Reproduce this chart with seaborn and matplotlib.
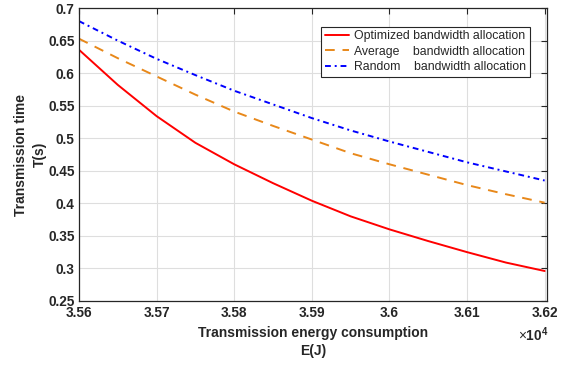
import numpy as np
import pandas as pd
import matplotlib
matplotlib.use('Agg')
import matplotlib.pyplot as plt
from matplotlib.ticker import FuncFormatter, MultipleLocator
import seaborn as sns

# 数据
energy = [35600, 35650, 35700, 35750, 35800, 35850, 35900,
          35950, 36000, 36050, 36100, 36150, 36200]
t_optimized = [0.636, 0.582, 0.534, 0.493, 0.460, 0.431, 0.404,
               0.380, 0.360, 0.342, 0.325, 0.309, 0.296]
t_average = [0.653, 0.623, 0.595, 0.567, 0.541, 0.519, 0.498,
             0.477, 0.460, 0.444, 0.428, 0.414, 0.401]
t_random = [0.680, 0.650, 0.622, 0.597, 0.573, 0.552, 0.531,
            0.512, 0.495, 0.479, 0.463, 0.449, 0.435]
labels = ['Optimized bandwidth allocation',
          'Average    bandwidth allocation',
          'Random    bandwidth allocation']

sns.set_theme(style='whitegrid')
plt.rcParams['font.family'] = ['Liberation Sans', 'DejaVu Sans']
plt.rcParams['mathtext.fontset'] = 'custom'
plt.rcParams['mathtext.rm'] = 'Liberation Sans'
plt.rcParams['mathtext.bf'] = 'Liberation Sans:bold'
plt.rcParams['axes.edgecolor'] = '#262626'
plt.rcParams['grid.color'] = '#dedede'
plt.rcParams['grid.linewidth'] = 0.8

fig = plt.figure(figsize=(5.68, 3.67), dpi=100)
ax = fig.add_axes([0.139, 0.180, 0.824, 0.798])

styles = [('#ff0000', '-'), ('#e8881a', (0, (5, 4))), ('#0000ff', (0, (3, 2, 1, 2)))]
for y, lab, (c, ls) in zip([t_optimized, t_average, t_random], labels, styles):
    sns.lineplot(x=energy, y=y, ax=ax, color=c, linestyle=ls, linewidth=1.4, label=lab)

ax.set_xlim(35600, 36203)
ax.set_ylim(0.25, 0.7)
ax.xaxis.set_major_locator(MultipleLocator(100))
ax.yaxis.set_major_locator(MultipleLocator(0.05))
ax.xaxis.set_major_formatter(FuncFormatter(lambda v, p: f'{v / 1e4:g}'))
ax.yaxis.set_major_formatter(FuncFormatter(lambda v, p: f'{v:g}'))

ax.tick_params(direction='in', length=4, width=0.8, top=True, right=True,
               labelsize=9.8, colors='#262626')
ax.tick_params(axis='x', pad=4)
ax.tick_params(axis='y', pad=3)
for lbl in ax.get_xticklabels() + ax.get_yticklabels():
    lbl.set_fontweight('bold')
for s in ax.spines.values():
    s.set_linewidth(0.9)

ax.set_xlabel('Transmission energy consumption\nE(J)', fontsize=10,
              fontweight='bold', color='#262626', labelpad=4, linespacing=1.35)
ax.set_ylabel('Transmission time\nT(s)', fontsize=10,
              fontweight='bold', color='#262626', labelpad=1, linespacing=1.4)
ax.text(1.004, -0.115, r'$\times\mathbf{10^4}$', transform=ax.transAxes, ha='right',
        va='center', fontsize=9.8, color='#262626')

leg = ax.legend(loc='upper right', bbox_to_anchor=(0.963, 0.937), fontsize=8.8,
                fancybox=False, framealpha=1, edgecolor='#262626',
                handlelength=2.0, borderpad=0.3, labelspacing=0.28,
                handletextpad=0.4, borderaxespad=0)
leg.get_frame().set_linewidth(0.8)

fig.savefig('out.png', dpi=100)
